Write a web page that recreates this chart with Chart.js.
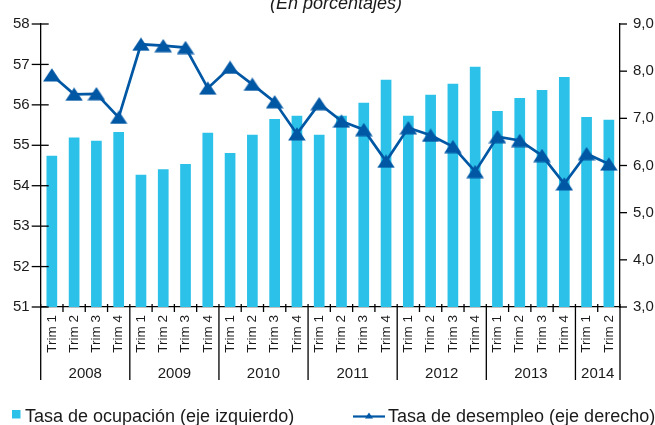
<!DOCTYPE html>
<html><head><meta charset="utf-8">
<script src="https://cdn.jsdelivr.net/npm/chart.js@4/dist/chart.umd.min.js"></script>
<style>html,body{margin:0;padding:0;background:#fff;}#wrap{width:655px;height:425px;}</style>
</head><body><div id="wrap"><canvas id="c" width="655" height="425"></canvas></div>
<script>
const quarters = ['Trim 1','Trim 2','Trim 3','Trim 4','Trim 1','Trim 2','Trim 3','Trim 4','Trim 1','Trim 2','Trim 3','Trim 4','Trim 1','Trim 2','Trim 3','Trim 4','Trim 1','Trim 2','Trim 3','Trim 4','Trim 1','Trim 2','Trim 3','Trim 4','Trim 1','Trim 2'];
const years = ['2008','2009','2010','2011','2012','2013','2014'];
const yearSpans = [4,4,4,4,4,4,2];
const ocupacion = [54.74,55.19,55.11,55.33,54.27,54.41,54.54,55.31,54.81,55.26,55.65,55.73,55.26,55.73,56.05,56.62,55.73,56.25,56.52,56.94,55.85,56.17,56.37,56.69,55.70,55.63];
const desempleo = [7.92,7.51,7.52,7.02,8.57,8.54,8.50,7.64,8.08,7.72,7.35,6.67,7.31,6.94,6.76,6.09,6.80,6.64,6.40,5.87,6.61,6.53,6.21,5.61,6.25,6.03];
const leftAxis = {min:51, max:58, step:1};
const rightAxis = {min:3, max:9, step:1};
const titleText = '(En porcentajes)';
const barLabel = 'Tasa de ocupación (eje izquierdo)';
const lineLabel = 'Tasa de desempleo (eje derecho)';

const FONT = "'Liberation Sans', Arial, sans-serif";
const barColor = '#2cc1e8';
const lineColor = '#0057a4';
const textColor = '#1a1a1a';

const tri = document.createElement('canvas');
tri.width = 18; tri.height = 14;
(function(){const t=tri.getContext('2d');t.fillStyle=lineColor;t.beginPath();t.moveTo(9,0.3);t.lineTo(17.8,13.5);t.lineTo(0.2,13.5);t.closePath();t.fill();})();

const decor = {
  id:'decor',
  afterDraw(chart){
    const {ctx, chartArea:a, scales} = chart;
    const x = scales.x, y = scales.y, y1 = scales.y1;
    ctx.save();
    ctx.strokeStyle = '#000'; ctx.lineWidth = 1.3;
    const ln=(x0,y0,x1,y2)=>{ctx.beginPath();ctx.moveTo(x0,y0);ctx.lineTo(x1,y2);ctx.stroke();};
    y.ticks.forEach(t=>{const p=y.getPixelForValue(t.value);ln(a.left-9,p,a.left+8,p);});
    y1.ticks.forEach(t=>{const p=y1.getPixelForValue(t.value);ln(a.right,p,a.right+7,p);});
    const half = (x.getPixelForValue(1)-x.getPixelForValue(0))/2;
    const bnd = i => i>=quarters.length ? x.getPixelForValue(quarters.length-1)+half : x.getPixelForValue(i)-half;
    const seps = [0]; yearSpans.forEach(s=>seps.push(seps[seps.length-1]+s));
    for(let i=0;i<=quarters.length;i++){
      const p=bnd(i);
      if(seps.includes(i)) ln(p,a.bottom-3,p,a.bottom+73); else ln(p,a.bottom-3,p,a.bottom+5);
    }
    ctx.fillStyle = textColor;
    ctx.font = '15px '+FONT; ctx.textAlign='center'; ctx.textBaseline='middle';
    years.forEach((yr,k)=>{const cx=(bnd(seps[k])+bnd(seps[k+1]))/2; ctx.fillText(yr,cx,a.bottom+67);});
    // title
    ctx.font = 'italic 18px '+FONT; ctx.textBaseline='alphabetic';
    ctx.fillText(titleText, 336, 8.5);
    // legend
    ctx.textAlign='left';
    ctx.font = '18px '+FONT;
    ctx.fillStyle = barColor; ctx.fillRect(12,410,8.5,8.5);
    ctx.fillStyle = textColor; ctx.fillText(barLabel, 25, 421.5);
    ctx.strokeStyle = lineColor; ctx.lineWidth = 2.2; ln(353,416.5,385,416.5);
    ctx.fillStyle = lineColor; ctx.beginPath(); ctx.moveTo(369,412.5); ctx.lineTo(373,418.5); ctx.lineTo(365,418.5); ctx.closePath(); ctx.fill();
    ctx.fillStyle = textColor; ctx.fillText(lineLabel, 388, 421.5);
    ctx.restore();
  }
};

new Chart(document.getElementById('c'), {
  type:'bar',
  data:{
    labels: quarters,
    datasets:[
      {type:'line', label:lineLabel, data:desempleo, yAxisID:'y1', borderColor:lineColor, backgroundColor:lineColor, borderWidth:2.7, pointStyle:tri, pointRadius:9, tension:0, order:0},
      {type:'bar', label:barLabel, data:ocupacion, yAxisID:'y', backgroundColor:barColor, barPercentage:0.48, categoryPercentage:1, order:1}
    ]
  },
  options:{
    responsive:false, animation:false, devicePixelRatio:1,
    layout:{padding:{top:24,left:0,right:0,bottom:0}},
    plugins:{legend:{display:false}, tooltip:{enabled:false}, title:{display:false}},
    scales:{
      x:{
        grid:{display:false, drawTicks:false},
        border:{display:true, color:'#000', width:1.3},
        ticks:{minRotation:90, maxRotation:90, autoSkip:false, padding:8, color:textColor, font:{size:13.5, family:FONT}},
        afterFit(s){s.height=118;}
      },
      y:{
        position:'left', min:leftAxis.min, max:leftAxis.max,
        grid:{display:false, drawTicks:false},
        border:{display:true, color:'#000', width:1.3},
        ticks:{stepSize:leftAxis.step, padding:11, color:textColor, font:{size:15, family:FONT}},
        afterFit(s){s.width=40.7;}
      },
      y1:{
        position:'right', min:rightAxis.min, max:rightAxis.max,
        grid:{display:false, drawTicks:false},
        border:{display:true, color:'#000', width:1.3},
        ticks:{stepSize:rightAxis.step, padding:13, color:textColor, font:{size:15, family:FONT}, callback:v=>v.toFixed(1).replace('.',',')},
        afterFit(s){s.width=35;}
      }
    }
  },
  plugins:[decor]
});
</script>
</body></html>
